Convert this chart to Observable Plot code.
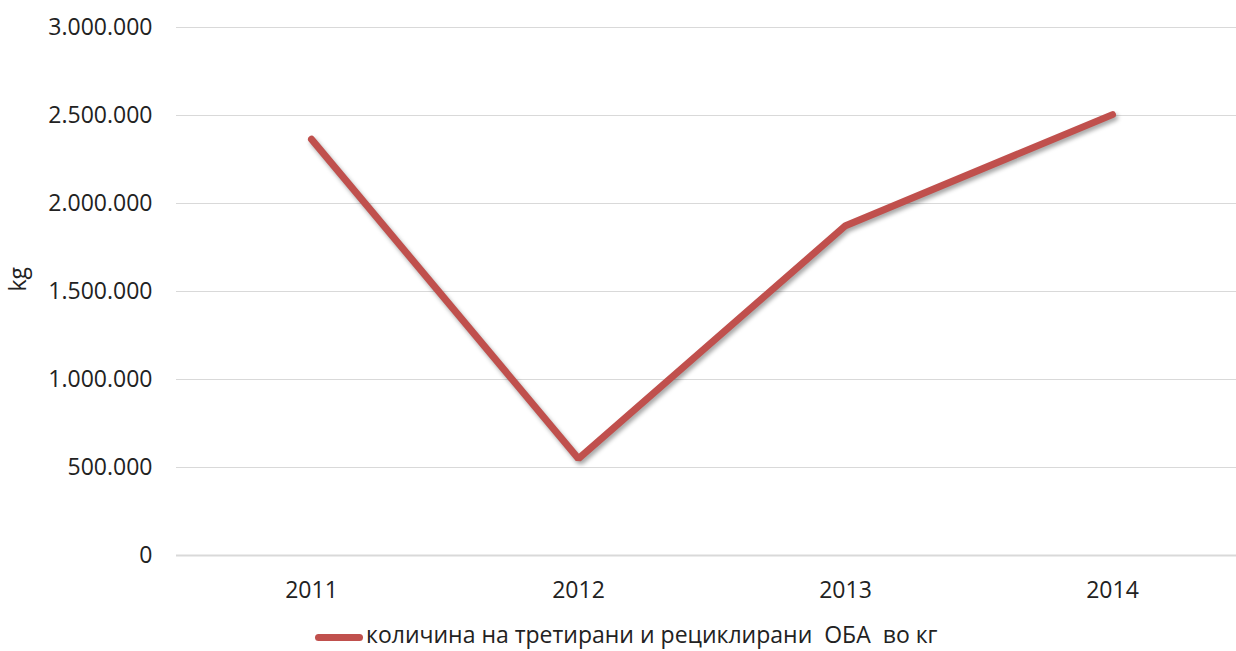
<!DOCTYPE html>
<html>
<head>
<meta charset="utf-8">
<script src="https://cdn.jsdelivr.net/npm/d3@7"></script>
<script src="https://cdn.jsdelivr.net/npm/@observablehq/plot@0.6"></script>
<style>
  body { margin: 0; background: #fff; font-family: "Open Sans", sans-serif; }
  #chart svg { overflow: hidden; display: block; }
  g[aria-label="line"] { filter: drop-shadow(2px 3px 2px rgba(0,0,0,0.35)); }
  #legend { position: relative; height: 36px; font-family: "Open Sans", sans-serif; font-size: 23px; color: #222; white-space: pre; }
  #legend .sw { position: absolute; left: 315px; top: 19px; width: 48px; height: 7px; border-radius: 4px; background: #C0504D; }
  #legend .tx { position: absolute; left: 366px; top: 3px; letter-spacing: 0px; }
</style>
</head>
<body>
<div id="chart"></div>
<div id="legend"><span class="sw"></span><span class="tx"></span></div>
<script>
const years = ["2011", "2012", "2013", "2014"];
const values = [2365000, 550000, 1874000, 2505000];
const yTicks = [0, 500000, 1000000, 1500000, 2000000, 2500000, 3000000];
const seriesName = "количина на третирани и рециклирани  ОБА  во кг";
const yLabel = "kg";

const data = years.map((y, i) => ({year: y, value: values[i]}));
const fmt = v => d3.format(",")(v).replace(/,/g, ".");

const chart = Plot.plot({
  width: 1236,
  height: 615,
  marginTop: 27,
  marginBottom: 60,
  marginLeft: 176,
  marginRight: -10,
  style: {fontFamily: "Open Sans, sans-serif", fontSize: "23px", color: "#222"},
  x: {type: "point", domain: years, padding: 0.5, label: null},
  y: {domain: [0, 3000000], ticks: yTicks, label: null},
  marks: [
    Plot.ruleY(yTicks.filter(d => d > 0), {stroke: "#d9d9d9", strokeWidth: 1.2}),
    Plot.ruleY([0], {stroke: "#d9d9d9", strokeWidth: 2}),
    Plot.axisY({ticks: yTicks, tickFormat: fmt, tickSize: 0, tickPadding: 24, fontSize: 23, label: null}),
    Plot.axisX({tickSize: 0, tickPadding: 26, fontSize: 23, label: null}),
    Plot.line(data, {x: "year", y: "value", stroke: "#C0504D", strokeWidth: 7, strokeLinecap: "round", strokeLinejoin: "miter"}),
    Plot.text([yLabel], {frameAnchor: "left", dx: -158, rotate: -90, fontSize: 23, fill: "#222"})
  ]
});
document.getElementById("chart").appendChild(chart);
document.querySelector("#legend .tx").textContent = seriesName;
</script>
</body>
</html>
